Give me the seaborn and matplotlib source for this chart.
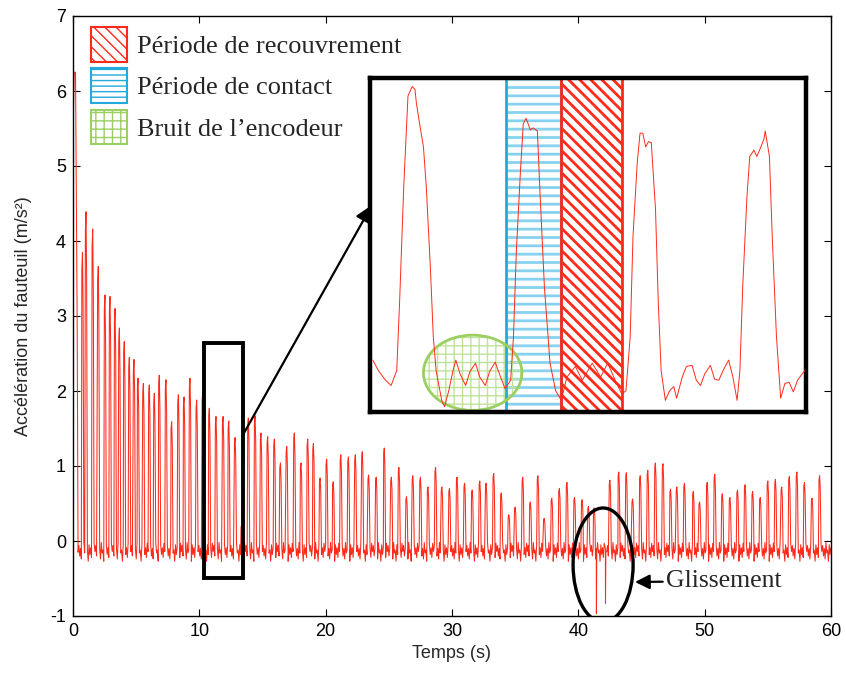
import numpy as np
import pandas as pd
import matplotlib
matplotlib.use("Agg")
import matplotlib.pyplot as plt
import seaborn as sns
from matplotlib.patches import Rectangle, Ellipse

# ---------------- data ----------------
start_value = 5.45
spike_t = [0.2, 0.75, 1.03, 1.56, 2.0, 2.53, 2.93, 3.33, 3.67, 4.06, 4.46, 4.83, 5.15, 5.57,
           6.04, 6.44, 6.83, 7.36, 7.81, 8.34, 8.79, 9.26, 9.79, 10.27, 10.79, 11.32, 11.88,
           12.33, 12.83, 13.35, 13.88, 14.41, 14.88, 15.41, 15.94, 16.42, 16.92, 17.52, 18.05,
           18.58, 19.03, 19.56, 20.08, 20.6, 21.2, 21.8, 22.35, 22.9, 23.4, 24.0, 24.64, 25.2,
           25.8, 26.4, 26.9, 27.5, 28.1, 28.7, 29.2, 29.8, 30.4, 31.0, 31.6, 32.2, 32.7, 33.3,
           33.9, 34.5, 35.0, 35.6, 36.2, 36.8, 37.3, 37.9, 38.5, 39.1, 39.7, 40.3, 40.8, 41.25,
           42.5, 43.2, 43.8, 44.3, 44.9, 45.5, 46.1, 46.7, 47.3, 47.8, 48.4, 49.1, 49.6, 50.2,
           50.8, 51.4, 52.0, 52.6, 53.2, 53.8, 54.4, 55.0, 55.6, 56.1, 56.7, 57.3, 57.9, 58.5,
           59.1]
spike_peak = [6.25, 3.85, 4.39, 4.16, 3.66, 3.28, 3.26, 3.10, 2.84, 2.66, 2.45, 2.42, 2.17, 2.10,
              2.08, 1.97, 2.21, 2.15, 1.59, 1.95, 1.92, 2.17, 1.88, 1.99, 1.77, 1.66, 1.66,
              1.60, 1.38, 0.20, 1.64, 1.67, 1.44, 1.39, 1.36, 1.04, 1.26, 1.44, 1.04,
              1.36, 1.30, 0.84, 1.09, 0.79, 1.15, 1.12, 1.15, 1.19, 0.88, 0.85, 1.24, 0.85,
              0.98, 0.59, 0.87, 0.85, 0.72, 0.98, 0.72, 0.70, 0.85, 0.77, 0.68, 0.80, 0.77, 0.90,
              0.64, 0.35, 0.45, 0.85, 0.52, 0.87, 0.30, 0.57, 0.70, 0.78, 0.58, 0.55, 0.46, 0.44,
              0.81, 0.92, 0.91, 0.56, 0.87, 0.94, 1.04, 1.03, 0.69, 0.72, 0.77, 0.66, 0.52, 0.78,
              0.89, 0.63, 0.58, 0.68, 0.75, 0.66, 0.58, 0.80, 0.82, 0.72, 0.86, 0.92, 0.78, 0.57,
              0.87]
neg_t = [41.43, 42.15]
neg_v = [-0.97, -0.83]
noise_template = [-0.06, -0.20, -0.10, -0.24, -0.02, -0.16, -0.12, -0.27, -0.05, -0.18,
                  -0.09, -0.22, -0.03, -0.14]
end_t = 60.0

# zoomed inset trace
inset_t = [10.42, 10.46, 10.51, 10.55, 10.59, 10.61, 10.64, 10.67, 10.70, 10.72, 10.73, 10.76,
           10.78, 10.80, 10.83, 10.85, 10.87, 10.91, 10.93, 10.96, 10.99, 11.01, 11.04, 11.08,
           11.11, 11.15, 11.18, 11.22, 11.25, 11.29, 11.32, 11.36, 11.40, 11.42, 11.44, 11.47,
           11.49, 11.51, 11.54, 11.56, 11.59, 11.61, 11.64, 11.68, 11.72, 11.76, 11.80, 11.86,
           11.91, 11.98, 12.04, 12.09, 12.15, 12.19, 12.22, 12.25, 12.27, 12.30, 12.32, 12.34,
           12.36, 12.38, 12.40, 12.43, 12.45, 12.47, 12.50, 12.53, 12.56, 12.58, 12.62, 12.65,
           12.69, 12.72, 12.75, 12.78, 12.82, 12.85, 12.88, 12.91, 12.95, 12.98, 13.01, 13.03,
           13.05, 13.08, 13.10, 13.13, 13.15, 13.17, 13.20, 13.21, 13.24, 13.26, 13.29, 13.32,
           13.35, 13.38, 13.41, 13.44, 13.49]
inset_a = [-0.01, -0.11, -0.20, -0.25, -0.11, 0.52, 1.63, 2.48, 2.57, 2.54, 2.41, 2.16,
           2.00, 1.63, 0.84, 0.21, -0.11, -0.39, -0.45, -0.30, -0.11, -0.01, -0.14, -0.25,
           -0.12, -0.04, -0.17, -0.25, -0.12, -0.03, -0.14, -0.28, -0.20, 0.21, 1.00, 1.78,
           2.22, 2.27, 2.16, 2.18, 2.15, 1.53, 0.68, -0.04, -0.30, -0.39, -0.17, -0.07,
           -0.20, -0.04, -0.17, -0.04, -0.22, -0.33, -0.30, 0.21, 1.16, 1.85, 2.13, 2.13,
           2.00, 2.05, 2.04, 1.41, 0.52, -0.11, -0.39, -0.30, -0.26, -0.37, -0.17, -0.07,
           -0.06, -0.20, -0.25, -0.14, -0.06, -0.19, -0.20, -0.11, -0.01, -0.17, -0.39, -0.11,
           0.68, 1.53, 1.91, 1.97, 1.91, 1.97, 2.07, 2.15, 1.91, 1.15, 0.21, -0.37,
           -0.23, -0.22, -0.31, -0.20, -0.11]
zoom_t = [10.37, 13.46]
zoom_a = [-0.49, 2.64]
contact_t = [11.37, 11.76]
overlap_t = [11.76, 12.19]
noise_center = [11.13, -0.13]
noise_size = [0.70, 0.71]
slip_center = [41.96, -0.32]
slip_size = [4.75, 1.52]

labels = ["Période de recouvrement", "Période de contact", "Bruit de l\u2019encodeur"]

# ---------------- build the trace from the read values ----------------
events = [(t, p, "up") for t, p in zip(spike_t, spike_peak)] + \
         [(t, v, "down") for t, v in zip(neg_t, neg_v)]
events.sort(key=lambda e: e[0])

tt = [0.0]
aa = [start_value]
k = 0
for i, (t, v, kind) in enumerate(events):
    if i > 0:
        cur = tt[-1] + 0.065
        while cur < t - 0.07:
            tt.append(cur)
            aa.append(noise_template[k % len(noise_template)])
            k += 1
            cur += 0.065
    if kind == "up":
        if i == 0:
            seg = [(t - 0.1, v), (t, v), (t + 0.07, 4.4), (t + 0.13, 2.9),
                   (t + 0.2, -0.15)]
        else:
            seg = [(t - 0.05, v * 0.94), (t, v), (t + 0.05, v * 0.8),
                   (t + 0.08, v * 0.35), (t + 0.11, noise_template[k % len(noise_template)])]
            k += 1
    else:
        seg = [(t - 0.01, -0.1), (t, v), (t + 0.03, -0.15)]
    for a, b in seg:
        tt.append(a)
        aa.append(b)
cur = tt[-1] + 0.065
while cur <= end_t:
    tt.append(cur)
    aa.append(noise_template[k % len(noise_template)])
    k += 1
    cur += 0.065

df = pd.DataFrame({"Temps": tt, "Acc": aa})
df_in = pd.DataFrame({"Temps": inset_t, "Acc": inset_a})

# ---------------- styling ----------------
sns.set_style("ticks")
plt.rcParams["font.family"] = ["Liberation Sans", "DejaVu Sans"]
plt.rcParams["axes.unicode_minus"] = False
serif = ["Liberation Serif", "DejaVu Serif"]

RED = "#ff2a1a"
BLUE = "#22aadd"
BLUE_L = "#86d2f0"
GREEN = "#9bcf62"
GREEN_L = "#bfe39a"

W, H = 846, 678
fig = plt.figure(figsize=(W / 100, H / 100), dpi=100)
ax = fig.add_axes([73 / W, 1 - 616 / H, 758 / W, 600 / H])

sns.lineplot(data=df, x="Temps", y="Acc", ax=ax, sort=False, estimator=None,
             color=RED, lw=0.75)
ax.set_xlim(0, 60)
ax.set_ylim(-1, 7)
ax.set_xticks(range(0, 61, 10))
ax.set_yticks(range(-1, 8))
ax.tick_params(direction="in", top=True, right=True, length=5, width=0.8,
               labelsize=13, colors="black", pad=5)
for s in ax.spines.values():
    s.set_color("black")
    s.set_linewidth(1.0)
ax.set_xlabel("Temps (s)", fontsize=13, labelpad=4)
ax.set_ylabel("Accélération du fauteuil (m/s²)", fontsize=13, labelpad=13)

ax.add_patch(Rectangle((zoom_t[0], zoom_a[0]), zoom_t[1] - zoom_t[0], zoom_a[1] - zoom_a[0],
                       fill=False, ec="black", lw=2.8, zorder=5))
ax.add_patch(Ellipse(tuple(slip_center), slip_size[0], slip_size[1], fill=False,
                     ec="black", lw=2.4, zorder=5))

ax.annotate("Glissement", xy=(635, H - 582), xycoords="figure pixels",
            xytext=(666, H - 581), textcoords="figure pixels", ha="left", va="center",
            fontsize=18.5, family=serif,
            arrowprops=dict(arrowstyle="-|>", color="black", lw=1.6, mutation_scale=22,
                            shrinkA=0, shrinkB=0))

# ---------------- inset ----------------
axi = fig.add_axes([370 / W, 1 - 412 / H, 436 / W, 334 / H])
axi.set_xlim(10.4, 13.5)
axi.set_ylim(-0.5, 2.65)
axi.set_xticks([])
axi.set_yticks([])
for s in axi.spines.values():
    s.set_color("black")
    s.set_linewidth(3.2)


def hatched(xy, w, h, hatch, hcol, ecol, lw_h, shape="rect", z=1):
    with plt.rc_context({"hatch.linewidth": lw_h}):
        if shape == "rect":
            p1 = Rectangle(xy, w, h, fill=False, hatch=hatch, ec=hcol, lw=0, zorder=z)
            p2 = Rectangle(xy, w, h, fill=False, ec=ecol, lw=2.0, zorder=z + 0.1)
        else:
            p1 = Ellipse(xy, w, h, fill=False, hatch=hatch, ec=hcol, lw=0, zorder=z)
            p2 = Ellipse(xy, w, h, fill=False, ec=ecol, lw=2.0, zorder=z + 0.1)
    return p1, p2


for p in hatched((contact_t[0], -0.5), contact_t[1] - contact_t[0], 3.15, "--",
                 BLUE_L, BLUE, 2.0):
    axi.add_patch(p)
for p in hatched((overlap_t[0], -0.5), overlap_t[1] - overlap_t[0], 3.15, "\\\\\\",
                 RED, RED, 2.0):
    axi.add_patch(p)
for p in hatched(tuple(noise_center), noise_size[0], noise_size[1], "++",
                 GREEN_L, GREEN, 1.0, shape="ell"):
    axi.add_patch(p)

sns.lineplot(data=df_in, x="Temps", y="Acc", ax=axi, sort=False, estimator=None,
             color=RED, lw=0.7, zorder=3)
axi.set_xlabel("")
axi.set_ylabel("")

fig.add_artist(matplotlib.patches.FancyArrowPatch(
    (244, H - 433), (372, H - 205), transform=None, arrowstyle="-|>",
    mutation_scale=26, color="black", lw=1.6, shrinkA=0, shrinkB=0, zorder=10))

# ---------------- legend ----------------
with plt.rc_context({"hatch.linewidth": 2.0}):
    h_red = Rectangle((0, 0), 1, 1, facecolor="white", ec=RED, hatch="\\\\\\", lw=1.5)
with plt.rc_context({"hatch.linewidth": 1.5}):
    h_blue = Rectangle((0, 0), 1, 1, facecolor="white", ec=BLUE, hatch="---", lw=1.5)
with plt.rc_context({"hatch.linewidth": 0.8}):
    h_green = Rectangle((0, 0), 1, 1, facecolor="white", ec=GREEN, hatch="++", lw=1.5)

ax.legend([h_red, h_blue, h_green], labels, loc="upper left",
          bbox_to_anchor=(91 / W, 1 - 27 / H), bbox_transform=fig.transFigure,
          frameon=False, prop={"family": serif, "size": 19}, handlelength=1.35,
          handleheight=1.65, labelspacing=0.25, handletextpad=0.4, borderpad=0,
          borderaxespad=0)

fig.savefig("out.png", dpi=100)
